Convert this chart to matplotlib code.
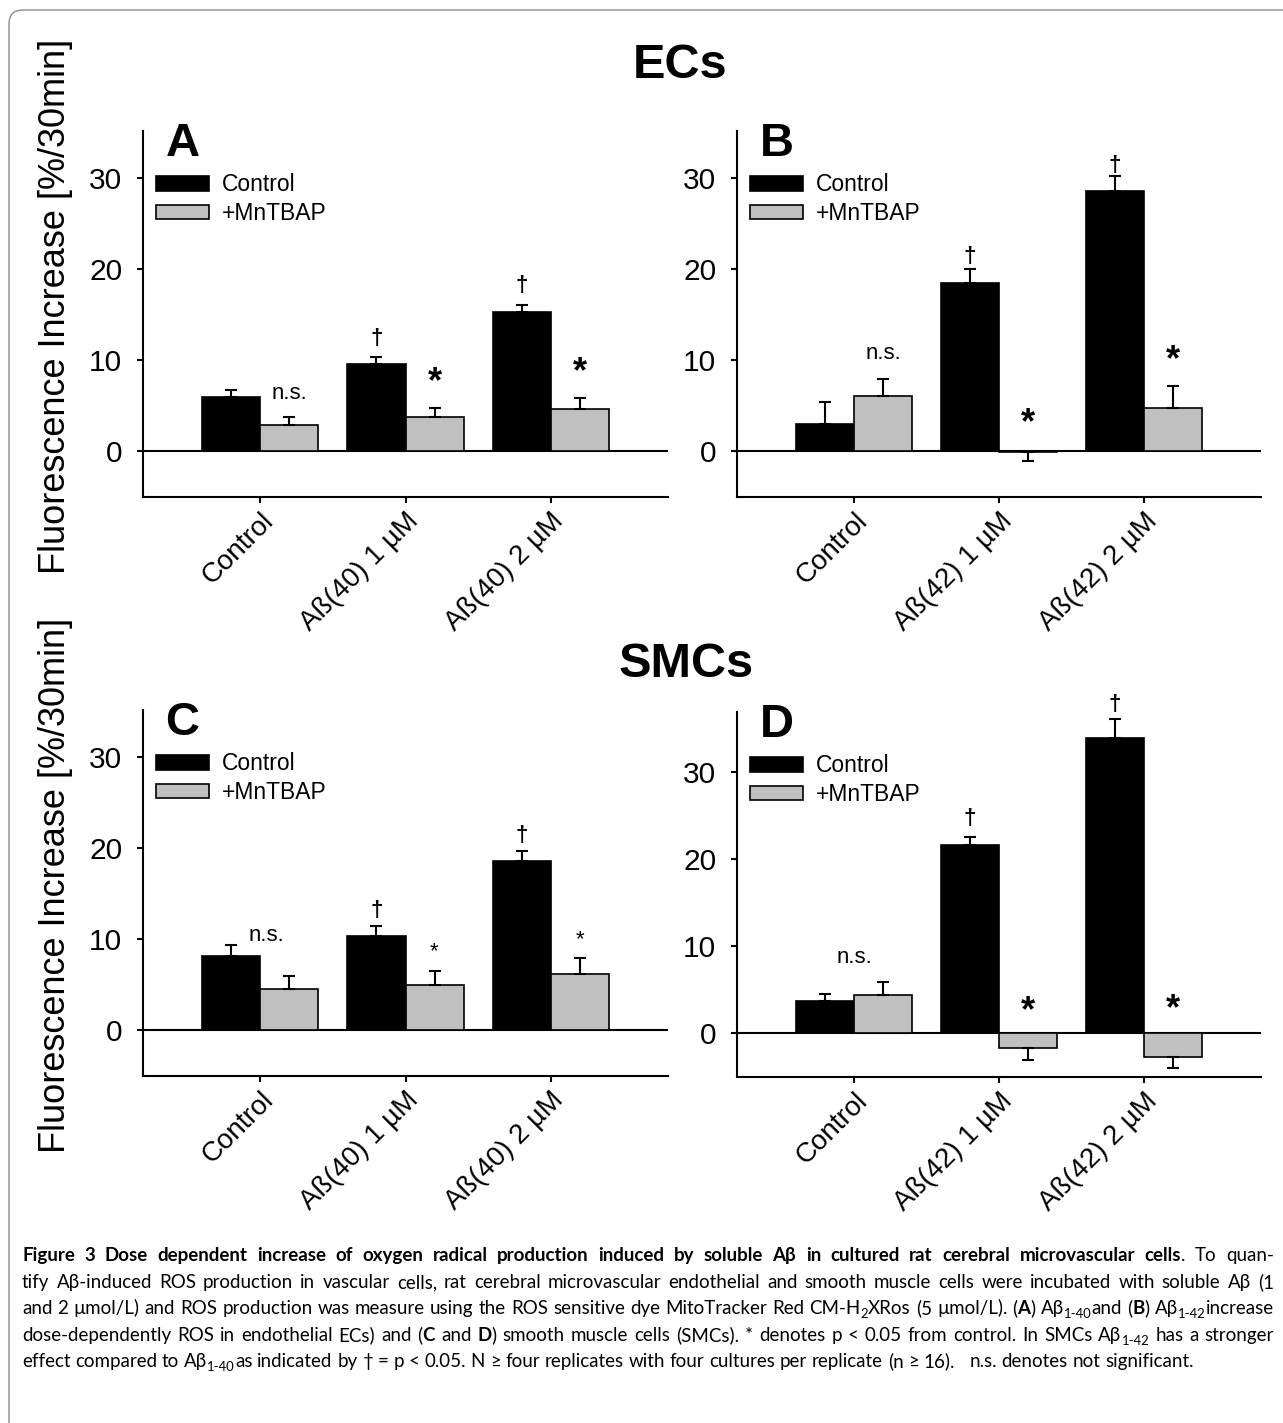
import matplotlib
matplotlib.use("Agg")
import matplotlib.pyplot as plt
import matplotlib.patches as mpatches
import matplotlib.transforms as mtransforms
import numpy as np

# %% data
groups_40 = ["Control", "Aß(40) 1 µM", "Aß(40) 2 µM"]
groups_42 = ["Control", "Aß(42) 1 µM", "Aß(42) 2 µM"]
series = ["Control", "+MnTBAP"]

ec40_ctrl = [6.0, 9.6, 15.3]
ec40_ctrl_err = [0.75, 0.7, 0.75]
ec40_mn = [2.9, 3.8, 4.6]
ec40_mn_err = [0.9, 1.0, 1.3]

ec42_ctrl = [3.0, 18.5, 28.5]
ec42_ctrl_err = [2.4, 1.5, 1.7]
ec42_mn = [6.1, -0.1, 4.7]
ec42_mn_err = [1.8, 1.0, 2.5]

smc40_ctrl = [8.2, 10.35, 18.6]
smc40_ctrl_err = [1.2, 1.05, 1.1]
smc40_mn = [4.5, 4.95, 6.2]
smc40_mn_err = [1.5, 1.5, 1.7]

smc42_ctrl = [3.7, 21.6, 33.9]
smc42_ctrl_err = [0.85, 0.9, 2.2]
smc42_mn = [4.4, -1.7, -2.7]
smc42_mn_err = [1.45, 1.4, 1.25]

# significance marks: (group, bar: -1 control / +1 MnTBAP / 0 centre, label, y)
marks_A = [(0, 1, "n.s.", 6.35), (1, -1, "†", 12.5), (2, -1, "†", 18.3),
           (1, 1, "*", 8.1), (2, 1, "*", 9.2)]
marks_B = [(0, 1, "n.s.", 10.75), (1, -1, "†", 21.5), (2, -1, "†", 31.5),
           (1, 1, "*", 3.7), (2, 1, "*", 10.6)]
marks_C = [(0, 0.2, "n.s.", 10.4), (1, -1, "†", 13.3), (2, -1, "†", 21.5),
           (1, 1, "s*", 9.2), (2, 1, "s*", 10.6)]
marks_D = [(0, 0, "n.s.", 8.8), (1, -1, "†", 24.8), (2, -1, "†", 37.9),
           (1, 1, "*", 3.2), (2, 1, "*", 3.4)]

# ** toggles bold, ~ toggles subscript
caption_lines = [
    "**Figure 3 Dose dependent increase of oxygen radical production induced by soluble Aβ in cultured rat cerebral microvascular cells**. To quan-",
    "tify Aβ-induced ROS production in vascular cells, rat cerebral microvascular endothelial and smooth muscle cells were incubated with soluble Aβ (1",
    "and 2 µmol/L) and ROS production was measure using the ROS sensitive dye MitoTracker Red CM-H~2~XRos (5 µmol/L). (**A**) Aβ~1-40~and (**B**) Aβ~1-42~increase",
    "dose-dependently ROS in endothelial ECs) and (**C** and **D**) smooth muscle cells (SMCs). * denotes p < 0.05 from control. In SMCs Aβ~1-42~ has a stronger",
    "effect compared to Aβ~1-40~as indicated by † = p < 0.05. N ≥ four replicates with four cultures per replicate (n ≥ 16).   n.s. denotes not significant.",
]

# %% style
W, H = 1283, 1423
plt.rcParams["font.family"] = ["Liberation Sans", "DejaVu Sans"]
cap_font = ["Lato", "DejaVu Sans"]
GREY = "#c0c0c0"

fig = plt.figure(figsize=(W / 100, H / 100), dpi=100)

def px_axes(left, right, top, bottom):
    return fig.add_axes([left / W, 1 - bottom / H, (right - left) / W, (bottom - top) / H])

panels = [
    ("A", px_axes(143, 668, 131, 497), groups_40, ec40_ctrl, ec40_ctrl_err, ec40_mn, ec40_mn_err, marks_A, 35.1),
    ("B", px_axes(737, 1261, 131, 497), groups_42, ec42_ctrl, ec42_ctrl_err, ec42_mn, ec42_mn_err, marks_B, 35.1),
    ("C", px_axes(143, 668, 710, 1076), groups_40, smc40_ctrl, smc40_ctrl_err, smc40_mn, smc40_mn_err, marks_C, 35.1),
    ("D", px_axes(737, 1261, 712, 1077), groups_42, smc42_ctrl, smc42_ctrl_err, smc42_mn, smc42_mn_err, marks_D, 36.9),
]

bw = 0.4
for letter, ax, groups, ctrl, ctrl_err, mn, mn_err, marks, ytop in panels:
    x = np.arange(len(groups))
    ax.bar(x - bw / 2, ctrl, bw, color="black", edgecolor="black", lw=1.2, zorder=2, label=series[0])
    ax.bar(x + bw / 2, mn, bw, color=GREY, edgecolor="black", lw=1.2, zorder=2, label=series[1])
    for xs, vals, errs in ((x - bw / 2, ctrl, ctrl_err), (x + bw / 2, mn, mn_err)):
        vals = np.array(vals)
        errs = np.array(errs)
        lo = np.where(vals < 0, errs, 0)
        hi = np.where(vals >= 0, errs, 0)
        ax.errorbar(xs, vals, yerr=[lo, hi], fmt="none", ecolor="black",
                    elinewidth=1.5, capsize=4.5, capthick=1.5, zorder=3)
    ax.axhline(0, color="black", lw=1.5, zorder=1)

    for g, side, txt, y in marks:
        xm = g + side * bw / 2
        if txt == "*":
            ax.annotate("*", (xm, y), xytext=(0, -0.42 * 26), textcoords="offset points",
                        ha="center", va="baseline", fontsize=26, fontweight="bold", annotation_clip=False)
        elif txt == "s*":
            ax.annotate("*", (xm, y), xytext=(0, -0.5 * 16), textcoords="offset points",
                        ha="center", va="baseline", fontsize=16, annotation_clip=False)
        elif txt == "†":
            ax.annotate("†", (xm, y), xytext=(0, -0.3 * 16), textcoords="offset points",
                        ha="center", va="baseline", fontsize=16, fontweight="bold", annotation_clip=False)
        else:
            ax.annotate(txt, (xm, y), xytext=(0, -0.26 * 16), textcoords="offset points",
                        ha="center", va="baseline", fontsize=16, annotation_clip=False)

    ax.set_xlim(-0.81, 2.81)
    ax.set_ylim(-5, ytop)
    ax.set_yticks([0, 10, 20, 30])
    ax.set_xticks(x)
    ax.set_xticklabels(groups, rotation=45, ha="right", va="top", rotation_mode="anchor", fontsize=20)
    for lab in ax.get_xticklabels():
        lab.set_transform(lab.get_transform() + mtransforms.ScaledTranslation(6 / 72, -3 / 72, fig.dpi_scale_trans))
    ax.tick_params(axis="y", labelsize=21.5, length=4, width=1.5, pad=11, direction="out")
    ax.tick_params(axis="x", length=4, width=1.5, pad=4, direction="out")
    for side in ("top", "right"):
        ax.spines[side].set_visible(False)
    for side in ("left", "bottom"):
        ax.spines[side].set_linewidth(1.5)

    ax.text(0.043, 0.932, letter, transform=ax.transAxes, fontsize=34, fontweight="bold",
            ha="left", va="baseline")
    handles = [mpatches.Patch(facecolor="black", edgecolor="black", lw=1.2),
               mpatches.Patch(facecolor=GREY, edgecolor="black", lw=1.2)]
    ax.legend(handles, series, loc="upper left", bbox_to_anchor=(0.025, 0.884), frameon=False,
              fontsize=16.5, handlelength=2.3, handleheight=0.6, handletextpad=0.55,
              labelspacing=0.25, borderpad=0, borderaxespad=0)

# titles and shared y labels
fig.text(680 / W, 1 - 78 / H, "ECs", fontsize=35, fontweight="bold", ha="center", va="baseline")
fig.text(686 / W, 1 - 677 / H, "SMCs", fontsize=35, fontweight="bold", ha="center", va="baseline")
ylab = "Fluorescence Increase [%/30min]"
fig.text(56 / W, 1 - 306 / H, ylab, rotation=90, fontsize=26, ha="center", va="center")
fig.text(56 / W, 1 - 885 / H, ylab, rotation=90, fontsize=26, ha="center", va="center")

# frame around the figure
frame = mpatches.FancyBboxPatch((9, -60), 1400, H - 10 + 60,
                                boxstyle="round,pad=0,rounding_size=14",
                                transform=mtransforms.IdentityTransform(),
                                fill=False, edgecolor="#8c8c8c", lw=1)
fig.add_artist(frame)

# %% caption, justified line by line
def parse_words(line):
    words, cur = [], []
    bold = sub = False
    i = 0
    while i < len(line):
        if line.startswith("**", i):
            bold = not bold
            i += 2
            continue
        c = line[i]
        i += 1
        if c == "~":
            sub = not sub
            continue
        if c == " ":
            words.append(cur)
            cur = []
        elif cur and cur[-1][1:] == (bold, sub):
            cur[-1] = (cur[-1][0] + c, bold, sub)
        else:
            cur.append((c, bold, sub))
    words.append(cur)
    return words

renderer = fig.canvas.get_renderer()
cap_fs = 15.0
SUB = 0.7
cap_left, cap_right = 22, 1274
cap_base = [1261, 1288, 1314, 1341, 1367]

line_runs = []
for line in caption_lines:
    words = []
    for w in parse_words(line):
        words.append([(fig.text(0, 0, s, family=cap_font, fontweight="bold" if b else "normal",
                                va="baseline", ha="left"), sb) for s, b, sb in w])
    line_runs.append(words)

def set_size(fs):
    for words in line_runs:
        for w in words:
            for t, sb in w:
                t.set_fontsize(fs * SUB if sb else fs)

def width(t):
    return t.get_window_extent(renderer).width

def space_width(fs):
    a = fig.text(0, 0, "a a", fontsize=fs, family=cap_font)
    b = fig.text(0, 0, "aa", fontsize=fs, family=cap_font)
    s = width(a) - width(b)
    a.remove()
    b.remove()
    return s

# shrink the font until every justified line fits with normal spaces
set_size(cap_fs)
space = space_width(cap_fs)
natural = [sum(width(t) for w in words for t, _ in w) + space * (len(words) - 1)
           for words in line_runs[:-1]]
scale = min(1.0, 0.995 * (cap_right - cap_left) / max(natural))
if scale < 1.0:
    cap_fs *= scale
    set_size(cap_fs)
    space = space_width(cap_fs)

sub_drop = 0.22 * cap_fs * 100 / 72
for k, words in enumerate(line_runs):
    widths = [[width(t) for t, _ in w] for w in words]
    total = sum(sum(ws) for ws in widths)
    if k < len(line_runs) - 1:
        gap = (cap_right - cap_left - total) / (len(words) - 1)
    else:
        gap = space
    xpos = cap_left
    for w, ws in zip(words, widths):
        for (t, sb), wt in zip(w, ws):
            ypix = cap_base[k] + (sub_drop if sb else 0)
            t.set_position((xpos / W, 1 - ypix / H))
            xpos += wt
        xpos += gap

fig.savefig("out.png", dpi=100)
